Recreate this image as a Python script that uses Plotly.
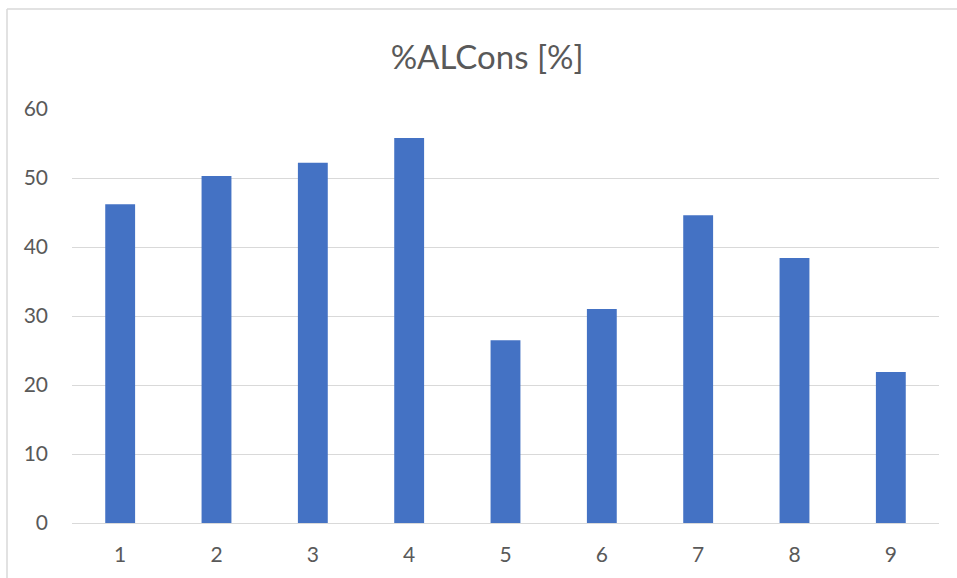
import plotly.graph_objects as go

categories = ["1", "2", "3", "4", "5", "6", "7", "8", "9"]
values = [46.2, 50.3, 52.2, 55.8, 26.5, 31.0, 44.6, 38.4, 21.9]
y_ticks = [0, 10, 20, 30, 40, 50, 60]

W, H = 957, 578
L, R, T, B = 72, 18, 109, 55
pw, ph = W - L - R, H - T - B

def px_x(p):
    return (p - L) / pw

def px_y(p):
    return (H - B - p) / ph

fig = go.Figure(go.Bar(x=categories, y=values, marker=dict(color="#4472C4", line=dict(width=0))))

fig.update_layout(
    width=W, height=H,
    margin=dict(l=L, r=R, t=T, b=B),
    paper_bgcolor="white", plot_bgcolor="white",
    bargap=0.69,
    showlegend=False,
    font=dict(family="Lato", color="#595959"),
    title=dict(text="%ALCons [%]", x=0.509, xanchor="center", y=1 - 57 / H, yanchor="middle",
               font=dict(size=33, color="#595959", family="Lato")),
    xaxis=dict(type="category", showgrid=False, showline=False, ticks="",
               tickfont=dict(size=21, color="#595959"), ticklabelstandoff=17),
    yaxis=dict(range=[0, 60], tickvals=y_ticks, showgrid=True, gridcolor="#d9d9d9", gridwidth=1,
               zeroline=True, zerolinecolor="#d9d9d9", zerolinewidth=1, showline=False, ticks="",
               tickfont=dict(size=21, color="#595959"), ticklabelstandoff=23),
    shapes=[
        dict(type="line", xref="paper", yref="paper", x0=px_x(7), x1=px_x(7), y0=px_y(9), y1=px_y(600),
             line=dict(color="#d9d9d9", width=1.5)),
        dict(type="line", xref="paper", yref="paper", x0=px_x(7), x1=px_x(970), y0=px_y(9), y1=px_y(9),
             line=dict(color="#d9d9d9", width=1.5)),
    ],
)

fig.write_html("out.html")
